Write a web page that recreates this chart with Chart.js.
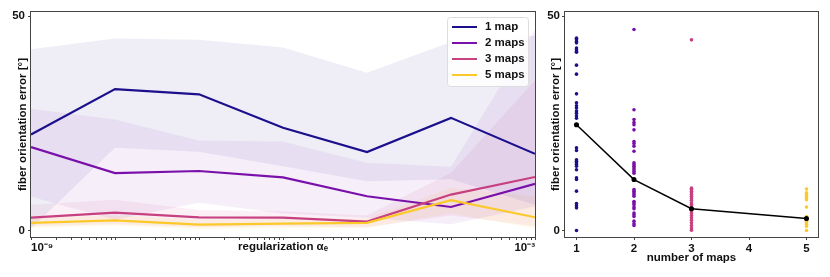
<!DOCTYPE html>
<html>
<head>
<meta charset="utf-8">
<script src="https://cdn.jsdelivr.net/npm/chart.js@4.4.1/dist/chart.umd.min.js"></script>
<style>
    body { margin: 0; background: #ffffff; }
    .panel { position: absolute; top: 0; }
</style>
</head>
<body>
<div class="panel" style="left:0px"><canvas id="leftChart" width="545" height="277"></canvas></div>
<div class="panel" style="left:540px"><canvas id="rightChart" width="290" height="277"></canvas></div>
<script>
// ---- data ----
const seriesNames = ['1 map', '2 maps', '3 maps', '5 maps'];
const seriesColors = ['#1b0f8c', '#7a10aa', '#c7407f', '#fcc92a'];

const regValues = [1e-9, 1e-8, 1e-7, 1e-6, 1e-5, 1e-4, 1e-3];
const xTickLabels = ['10⁻⁹', '10⁻³'];
const yTickValues = [0, 50];

const err1 = [22.4, 33.0, 31.8, 24.0, 18.3, 26.3, 17.9];
const err2 = [19.5, 13.4, 13.9, 12.4, 8.0, 5.5, 10.9];
const err3 = [3.0, 4.2, 3.1, 3.0, 2.1, 8.4, 12.5];
const err5 = [1.8, 2.4, 1.4, 1.6, 1.8, 7.1, 3.1];

const upper1 = [42.3, 44.8, 44.5, 42.7, 36.8, 44.0, 45.5];
const lower1 = [0.5, 19.3, 18.4, 15.0, 11.5, 12.0, 6.0];
const upper2 = [28.4, 25.9, 21.0, 20.8, 15.8, 14.9, 47.0];
const lower2 = [7.9, 2.5, 6.5, 4.0, 3.0, 1.5, 5.6];
const upper3 = [6.0, 7.2, 4.8, 4.5, 3.5, 13.5, 35.0];
const lower3 = [1.0, 1.5, 0.8, 1.0, 0.8, 3.5, 1.0];
const upper5 = [3.0, 3.6, 2.6, 2.7, 2.8, 10.0, 8.0];
const lower5 = [0.6, 1.2, 0.3, 0.5, 0.6, 4.0, 0.5];

const mapCounts = [1, 2, 3, 5];
const mapTicks = [1, 2, 3, 4, 5];
const scatter1 = [44.9, 44.5, 44.1, 43.8, 42.6, 42.2, 41.8, 41.6, 38.6, 36.5, 31.9, 29.8, 29.1, 28.6, 27.9, 27.4, 26.8, 26.2,
    19.3, 18.7, 16.5, 16.2, 15.8, 15.4, 15.0, 14.2, 12.3, 11.9, 9.2, 6.3, 5.8, 5.3, 0.0];
const scatter2 = [46.9, 28.2, 25.9, 25.2, 24.7, 23.5, 20.8, 20.3, 19.7, 18.5, 15.8, 15.4, 15.0, 14.6, 14.2, 13.8, 13.4,
    9.6, 9.2, 8.8, 8.4, 8.0, 6.8, 6.5, 6.1, 5.5, 5.1, 4.1, 3.7, 3.3, 2.2, 1.6, 1.2];
const scatter3 = [44.5, 9.9, 9.6, 9.2, 8.8, 8.4, 8.0, 7.6, 7.1, 6.5, 6.1, 5.8, 5.3, 4.7, 4.1, 3.5, 3.0, 2.4, 1.8, 1.2, 0.6, 0.1];
const scatter5 = [9.7, 8.8, 8.4, 8.0, 7.6, 7.2, 5.5, 3.3, 3.0, 2.6, 2.2, 1.8, 1.4, 1.0, 0.0];
const meanError = [24.7, 11.9, 5.1, 2.8];

// ---- helpers ----
const FONT = "'Liberation Sans', Arial, sans-serif";
Chart.defaults.font.family = FONT;
Chart.defaults.font.size = 11.5;
Chart.defaults.font.weight = 'bold';
Chart.defaults.color = '#111111';

function rgba(hex, a) {
    const n = parseInt(hex.slice(1), 16);
    return `rgba(${(n >> 16) & 255}, ${(n >> 8) & 255}, ${n & 255}, ${a})`;
}

const framePlugin = {
    id: 'frame',
    afterDatasetsDraw(chart) {
        const { ctx, chartArea: a } = chart;
        ctx.save();
        ctx.strokeStyle = '#444444';
        ctx.lineWidth = 1;
        ctx.strokeRect(Math.round(a.left) - 0.5, Math.round(a.top) - 0.5,
            Math.round(a.right - a.left) + 1, Math.round(a.bottom - a.top) + 1);
        ctx.restore();
    }
};

const boxLegend = {
    id: 'boxLegend',
    afterDraw(chart) {
        const ctx = chart.ctx;
        const a = chart.chartArea;
        const x = a.right - 88, y = a.top + 5, w = 81, h = 69;
        ctx.save();
        ctx.fillStyle = 'rgba(255,255,255,0.85)';
        ctx.strokeStyle = '#dddddd';
        ctx.lineWidth = 1;
        ctx.beginPath();
        ctx.roundRect(x + 0.5, y + 0.5, w, h, 3);
        ctx.fill();
        ctx.stroke();
        ctx.font = `bold 11.5px ${FONT}`;
        ctx.textBaseline = 'middle';
        seriesNames.forEach((name, i) => {
            const ry = y + 10 + i * 16;
            ctx.strokeStyle = seriesColors[i];
            ctx.lineWidth = 2;
            ctx.beginPath();
            ctx.moveTo(x + 5, ry);
            ctx.lineTo(x + 30, ry);
            ctx.stroke();
            ctx.fillStyle = '#111111';
            ctx.fillText(name, x + 38, ry);
        });
        ctx.restore();
    }
};

// ---- left chart: error vs regularization ----
const lineSets = [err1, err2, err3, err5];
const bandSets = [[lower1, upper1], [lower2, upper2], [lower3, upper3], [lower5, upper5]];
const bandAlpha = [0.07, 0.07, 0.08, 0.09];

const leftDatasets = [];
bandSets.forEach((band, i) => {
    leftDatasets.push({
        data: band[0].map((v, j) => ({ x: regValues[j], y: v })),
        borderWidth: 0, pointRadius: 0, fill: false, order: 10
    });
    leftDatasets.push({
        data: band[1].map((v, j) => ({ x: regValues[j], y: v })),
        borderWidth: 0, pointRadius: 0, fill: '-1',
        backgroundColor: rgba(seriesColors[i], bandAlpha[i]), order: 10
    });
});
lineSets.forEach((vals, i) => {
    leftDatasets.push({
        label: seriesNames[i],
        data: vals.map((v, j) => ({ x: regValues[j], y: v })),
        borderColor: seriesColors[i],
        borderWidth: 2.2,
        pointRadius: 0,
        tension: 0,
        fill: false,
        order: 4 - i
    });
});

const logTicks = [];
for (let e = -9; e < -3; e++) {
    for (let s = 1; s < 10; s++) logTicks.push(s * Math.pow(10, e));
}
logTicks.push(1e-3);

new Chart(document.getElementById('leftChart'), {
    type: 'line',
    data: { datasets: leftDatasets },
    options: {
        responsive: false,
        animation: false,
        layout: { padding: { left: 0, right: 10, top: 12, bottom: 0 } },
        plugins: {
            legend: { display: false },
            tooltip: { enabled: false },
            filler: { drawTime: 'beforeDatasetsDraw' }
        },
        scales: {
            x: {
                type: 'logarithmic',
                min: 1e-9,
                max: 1e-3,
                afterBuildTicks: (scale) => {
                    scale.ticks = logTicks.map(v => ({ value: v }));
                },
                afterFit: (scale) => { scale.height = 40; },
                ticks: {
                    autoSkip: false,
                    maxRotation: 0,
                    align: 'inner',
                    padding: 1,
                    callback: (value) => {
                        if (Math.abs(value - regValues[0]) < 1e-15) return xTickLabels[0];
                        if (Math.abs(value - regValues[regValues.length - 1]) < 1e-9) return xTickLabels[1];
                        return '';
                    }
                },
                grid: { drawOnChartArea: false, tickLength: 3, color: '#444444' },
                border: { display: false },
                title: { display: true, text: 'regularization αₑ', padding: { top: 0, bottom: 23.6 } }
            },
            y: {
                min: -1.5,
                max: 51,
                afterBuildTicks: (scale) => {
                    scale.ticks = yTickValues.map(v => ({ value: v }));
                },
                afterFit: (scale) => { scale.width = 31; },
                ticks: { padding: 3 },
                grid: { drawOnChartArea: false, tickLength: 3, color: '#444444' },
                border: { display: false },
                title: { display: true, text: 'fiber orientation error [°]', padding: { top: 15.6, bottom: 0 } }
            }
        }
    },
    plugins: [framePlugin, boxLegend]
});

// ---- right chart: error vs number of maps ----
const scatterSets = [scatter1, scatter2, scatter3, scatter5];
const rightDatasets = [{
    type: 'line',
    data: meanError.map((v, i) => ({ x: mapCounts[i], y: v })),
    borderColor: '#000000',
    backgroundColor: '#000000',
    borderWidth: 1.5,
    pointRadius: 1.8,
    tension: 0,
    order: 0
}];
scatterSets.forEach((vals, i) => {
    rightDatasets.push({
        type: 'scatter',
        data: vals.map(v => ({ x: mapCounts[i], y: v })),
        backgroundColor: seriesColors[i],
        borderWidth: 0,
        pointRadius: 1.8,
        order: 1
    });
});

new Chart(document.getElementById('rightChart'), {
    type: 'scatter',
    data: { datasets: rightDatasets },
    options: {
        responsive: false,
        animation: false,
        layout: { padding: { left: 0, right: 12, top: 12, bottom: 0 } },
        plugins: { legend: { display: false }, tooltip: { enabled: false } },
        scales: {
            x: {
                type: 'linear',
                min: 0.8,
                max: 5.2,
                afterBuildTicks: (scale) => {
                    scale.ticks = mapTicks.map(v => ({ value: v }));
                },
                afterFit: (scale) => { scale.height = 40; },
                ticks: { padding: 2, maxRotation: 0, callback: (v) => String(v) },
                grid: { drawOnChartArea: false, tickLength: 3, color: '#444444' },
                border: { display: false },
                title: { display: true, text: 'number of maps', padding: { top: 0, bottom: 12.1 } }
            },
            y: {
                min: -1.5,
                max: 51,
                afterBuildTicks: (scale) => {
                    scale.ticks = yTickValues.map(v => ({ value: v }));
                },
                afterFit: (scale) => { scale.width = 25; },
                ticks: { padding: 2 },
                grid: { drawOnChartArea: false, tickLength: 3, color: '#444444' },
                border: { display: false },
                title: { display: true, text: 'fiber orientation error [°]', padding: { top: 9.1, bottom: 0 } }
            }
        }
    },
    plugins: [framePlugin]
});
</script>
</body>
</html>
